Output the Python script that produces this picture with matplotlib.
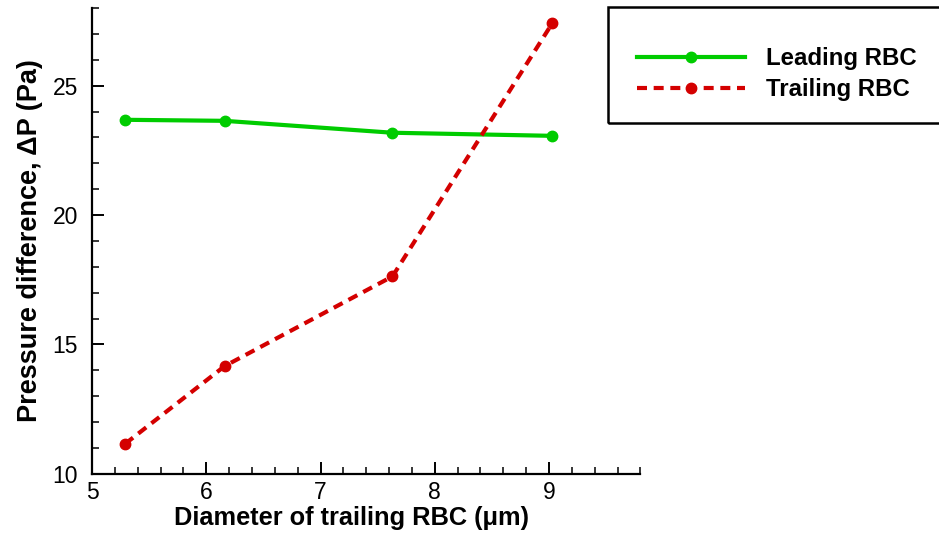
import matplotlib
matplotlib.use('Agg')
import matplotlib.pyplot as plt
from matplotlib.patches import Rectangle
from matplotlib.lines import Line2D
from matplotlib.ticker import MultipleLocator

plt.rcParams['font.family'] = ['Liberation Sans', 'DejaVu Sans']

# diameter of trailing cell (um) and pressure drop across each cell (Pa)
diameter = [5.29, 6.16, 7.63, 9.03]
leading_dp = [23.68, 23.64, 23.18, 23.06]
trailing_dp = [11.16, 14.16, 17.63, 27.42]

green = '#00cc00'
red = '#d40000'

fig = plt.figure(figsize=(9.39, 5.33), dpi=100)
ax = fig.add_axes([0.098, 0.111, 0.584, 0.874])

ax.plot(diameter, leading_dp, '-', color=green, lw=3, marker='o', ms=7.5)
ax.plot(diameter, trailing_dp, color=red, lw=3, marker='o', ms=7.5,
        dashes=(2.4, 1.6))

ax.set_xlim(5, 9.8)
ax.set_ylim(10, 28)
ax.xaxis.set_major_locator(MultipleLocator(1))
ax.xaxis.set_minor_locator(MultipleLocator(0.2))
ax.yaxis.set_major_locator(MultipleLocator(5))
ax.yaxis.set_minor_locator(MultipleLocator(1))

for s in ['top', 'right']:
    ax.spines[s].set_visible(False)
for s in ['left', 'bottom']:
    ax.spines[s].set_linewidth(1.6)

ax.tick_params(which='major', direction='in', length=8.5, width=1.4,
               labelsize=16.5, pad=5)
ax.tick_params(which='minor', direction='in', length=5, width=1.1)
ax.tick_params(axis='y', which='major', pad=10)

ax.set_xlabel('Diameter of trailing RBC (μm)', fontsize=18.3, fontweight='bold',
              labelpad=2)
ax.xaxis.set_label_coords(0.473, -0.07)
ax.set_ylabel('Pressure difference, ΔP (Pa)', fontsize=19.5, fontweight='bold',
              labelpad=7)

# legend box runs off the right edge of the figure
fig.patches.append(Rectangle((608 / 939, 1 - 123 / 533), 0.4, 116 / 533,
                             transform=fig.transFigure, fill=False,
                             edgecolor='black', lw=1.8))
handles = [
    Line2D([], [], color=green, lw=3, marker='o', ms=7.5),
    Line2D([], [], color=red, lw=3, marker='o', ms=7.5, dashes=(2.4, 1.6)),
]
fig.legend(handles, ['Leading RBC', 'Trailing RBC'], loc='upper left',
           bbox_to_anchor=(637 / 939, 1 - 47 / 533), frameon=False,
           handlelength=4.5, handletextpad=0.85, labelspacing=0.35,
           borderaxespad=0, borderpad=0,
           prop={'size': 17.3, 'weight': 'bold'})

fig.savefig('out.png', dpi=100)
